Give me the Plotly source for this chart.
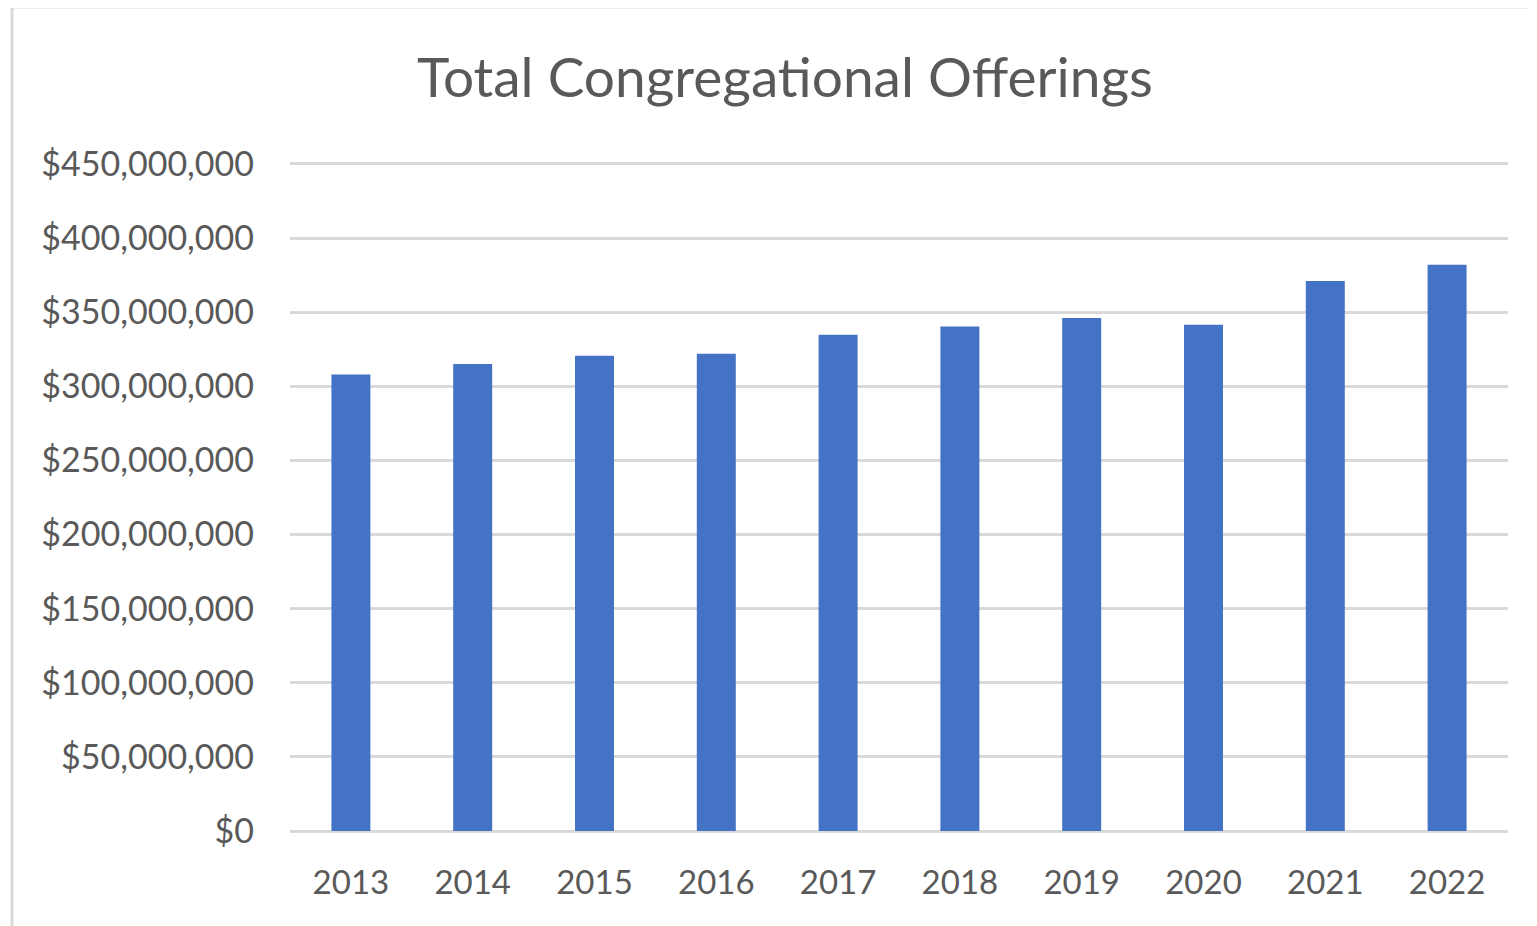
import plotly.graph_objects as go

years = ["2013", "2014", "2015", "2016", "2017", "2018", "2019", "2020", "2021", "2022"]
offerings = [308e6, 315e6, 320.7e6, 322e6, 334.7e6, 340.3e6, 346e6, 341.6e6, 371e6, 382e6]
tick_vals = [0, 50e6, 100e6, 150e6, 200e6, 250e6, 300e6, 350e6, 400e6, 450e6]
tick_text = ["$0", "$50,000,000", "$100,000,000", "$150,000,000", "$200,000,000",
             "$250,000,000", "$300,000,000", "$350,000,000", "$400,000,000", "$450,000,000"]

FONT = "Lato"
TXT = "#595959"
GRID = "#d9d9d9"

fig = go.Figure(go.Bar(x=years, y=offerings, marker=dict(color="#4472C4", line=dict(width=0)),
                       hoverinfo="x+y"))

W, H = 1537, 926
OFF = 8  # page body margin
L, T = 290 - OFF, 161 - OFF
pw, ph = 1218, 670
R, B = W - L - pw, H - T - ph

fig.update_layout(
    width=W, height=H,
    margin=dict(l=L, r=R, t=T, b=B, autoexpand=False),
    paper_bgcolor="white", plot_bgcolor="white",
    bargap=0.68,
    showlegend=False,
    font=dict(family=FONT, color=TXT),
    title=dict(text="Total Congregational Offerings", x=(785 - OFF) / W, xref="container",
               xanchor="center", y=1 - (78 - OFF) / H, yref="container", yanchor="middle",
               font=dict(family=FONT, size=55, color=TXT)),
    xaxis=dict(type="category", showgrid=False, showline=False, zeroline=False, ticks="",
               tickfont=dict(family=FONT, size=33, color=TXT), ticklabelstandoff=29),
    yaxis=dict(range=[0, 452e6], tickvals=tick_vals, ticktext=tick_text, showgrid=True,
               gridcolor=GRID, gridwidth=3, zeroline=True, zerolinecolor=GRID, zerolinewidth=3,
               showline=False, ticks="", tickfont=dict(family=FONT, size=34, color=TXT),
               ticklabelstandoff=35),
    shapes=[dict(type="rect", xref="paper", yref="paper",
                 x0=(12 - OFF - L) / pw, x1=(W + 20 - L) / pw,
                 y0=-(H + 20 - (T + ph)) / ph, y1=(T + 1) / ph + 1,
                 line=dict(color=GRID, width=3), fillcolor="rgba(0,0,0,0)", layer="below")],
)

fig.write_html("out.html")
